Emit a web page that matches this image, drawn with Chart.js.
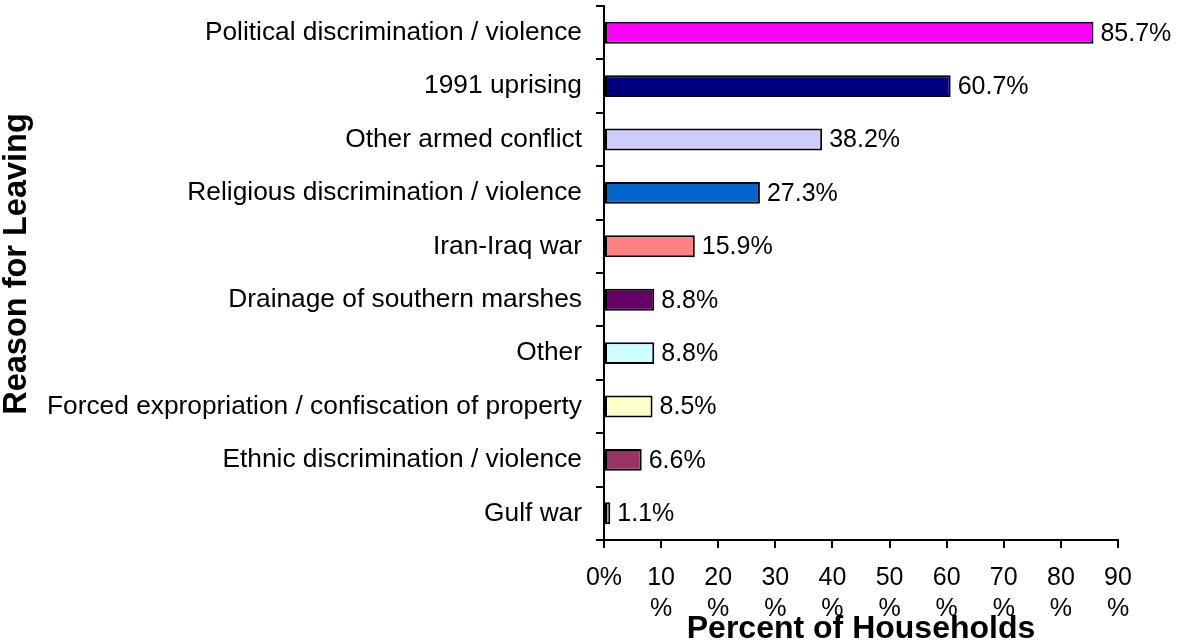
<!DOCTYPE html>
<html>
<head>
<meta charset="utf-8">
<script src="https://cdn.jsdelivr.net/npm/chart.js@4"></script>
<style>
  html, body { margin: 0; padding: 0; background: #fff; }
  #wrap { width: 1177px; height: 642px; position: relative; }
</style>
</head>
<body>
<div id="wrap"><canvas id="my"></canvas></div>
<script>
// Reasons for leaving, top to bottom
const reasons = [
  "Political discrimination / violence",
  "1991 uprising",
  "Other armed conflict",
  "Religious discrimination / violence",
  "Iran-Iraq war",
  "Drainage of southern marshes",
  "Other",
  "Forced expropriation / confiscation of property",
  "Ethnic discrimination / violence",
  "Gulf war"
];
const percents = [85.7, 60.7, 38.2, 27.3, 15.9, 8.8, 8.8, 8.5, 6.6, 1.1];
const barColors = ["#FF00FF", "#000080", "#CCCCFF", "#0066CC", "#FF8080",
                   "#660066", "#CCFFFF", "#FFFFCC", "#993366", "#9999FF"];
const xTicks = [0, 10, 20, 30, 40, 50, 60, 70, 80, 90];

const font = "'Liberation Sans', Arial, sans-serif";

// draws the value next to each bar
const valueLabels = {
  id: 'valueLabels',
  afterDatasetsDraw(chart) {
    const ctx = chart.ctx;
    const meta = chart.getDatasetMeta(0);
    ctx.save();
    ctx.font = "25px " + font;
    ctx.fillStyle = "#000";
    ctx.textAlign = "left";
    ctx.textBaseline = "middle";
    meta.data.forEach((bar, i) => {
      ctx.fillText(percents[i].toFixed(1) + "%", bar.x + 7, bar.y + 1);
    });
    ctx.restore();
  }
};

const ctx = document.getElementById('my').getContext('2d');
new Chart(ctx, {
  type: 'bar',
  data: {
    labels: reasons,
    datasets: [{
      data: percents,
      backgroundColor: barColors,
      borderColor: '#000',
      borderWidth: 2,
      borderSkipped: false,
      barPercentage: 0.41,
      categoryPercentage: 1
    }]
  },
  plugins: [valueLabels],
  options: {
    indexAxis: 'y',
    responsive: true,
    maintainAspectRatio: false,
    animation: false,
    layout: { padding: { top: 6, right: 59, left: 0, bottom: 0 } },
    plugins: {
      legend: { display: false },
      tooltip: { enabled: false }
    },
    scales: {
      x: {
        min: 0,
        max: 90,
        afterBuildTicks: (axis) => { axis.ticks = xTicks.map(v => ({ value: v })); },
        afterFit: (axis) => { axis.height = 102; axis.paddingLeft = 0; axis.paddingRight = 0; },
        border: { display: true, color: '#000', width: 2 },
        grid: { drawOnChartArea: false, drawTicks: true, tickLength: 8, color: '#000', lineWidth: 2 },
        ticks: {
          color: '#000',
          padding: 14,
          maxRotation: 0,
          font: { family: font, size: 25, lineHeight: 1.25 },
          callback: (v) => v === 0 ? '0%' : [String(v), '%']
        },
        title: {
          display: true,
          text: 'Percent of Households',
          color: '#000',
          font: { family: font, size: 32, weight: 'bold', lineHeight: 1 },
          padding: { top: 0, bottom: -3 }
        }
      },
      y: {
        afterFit: (axis) => { axis.width = 604; axis.paddingTop = 0; axis.paddingBottom = 0; },
        border: { display: true, color: '#000', width: 2 },
        grid: { drawOnChartArea: false, drawTicks: true, tickLength: 8, color: '#000', lineWidth: 2 },
        ticks: {
          color: '#000',
          padding: 14,
          autoSkip: false,
          font: { family: font, size: 26.3 }
        },
        title: {
          display: true,
          text: '  Reason for Leaving',
          color: '#000',
          font: { family: font, size: 32.5, weight: 'bold', lineHeight: 1 },
          padding: { top: 1, bottom: 0 }
        }
      }
    }
  }
});
</script>
</body>
</html>
